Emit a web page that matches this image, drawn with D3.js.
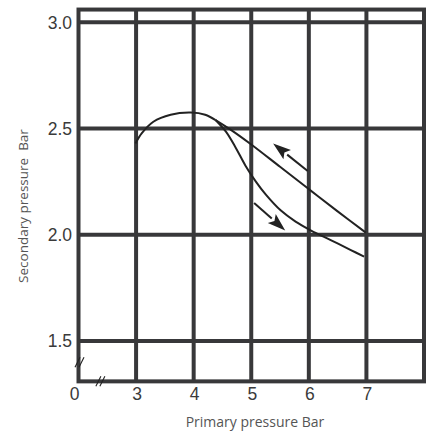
<!DOCTYPE html>
<html>
<head>
<meta charset="utf-8">
<script src="https://cdn.jsdelivr.net/npm/d3@7"></script>
<style>
  body { margin: 0; background: #fff; }
  svg { display: block; }
</style>
</head>
<body>
<div id="chart"></div>
<script>
// grid values
var xTicks = [2, 3, 4, 5, 6, 7];
var xTickLabels = ["0", "3", "4", "5", "6", "7"];
var xGrid = [3, 4, 5, 6, 7];
var yTicks = [1.5, 2.0, 2.5, 3.0];
var yTickLabels = ["1.5", "2.0", "2.5", "3.0"];

// rising part of the loop (shared)
var risingX = [2.99, 3.1, 3.3, 3.6, 3.95, 4.2, 4.38];
var risingY = [2.43, 2.478, 2.532, 2.565, 2.575, 2.565, 2.54];
// upper branch (return)
var upperX = [4.38, 4.64, 5.0, 5.5, 6.0, 6.5, 6.99];
var upperY = [2.54, 2.495, 2.425, 2.32, 2.215, 2.11, 2.01];
// lower branch (falling)
var lowerX = [4.38, 4.56, 4.73, 4.90, 5.08, 5.25, 5.51, 5.77, 6.04, 6.38, 6.73, 6.96];
var lowerY = [2.54, 2.485, 2.41, 2.325, 2.25, 2.19, 2.115, 2.062, 2.02, 1.975, 1.928, 1.897];

// arrows: [fromX, fromY, toX, toY]
var arrowUp = [5.98, 2.30, 5.38, 2.43];
var arrowDown = [5.05, 2.15, 5.59, 2.02];

var width = 435, height = 440;
var ink = "#38383a";

var svg = d3.select("#chart").append("svg")
    .attr("width", width)
    .attr("height", height);

var x = d3.scaleLinear().domain([2, 8]).range([78.5, 424]);
var y = d3.scaleLinear().domain([1.5, 3.0]).range([341, 22.3]);
var yTop = 3.06, yBottom = 1.31;

// grid lines
svg.selectAll(".vgrid")
    .data(xGrid)
    .enter().append("line")
    .attr("x1", function(d) { return x(d); })
    .attr("x2", function(d) { return x(d); })
    .attr("y1", y(yTop))
    .attr("y2", y(yBottom))
    .attr("stroke", ink)
    .attr("stroke-width", 4);

svg.selectAll(".hgrid")
    .data(yTicks)
    .enter().append("line")
    .attr("x1", x(2))
    .attr("x2", x(8))
    .attr("y1", function(d) { return y(d); })
    .attr("y2", function(d) { return y(d); })
    .attr("stroke", ink)
    .attr("stroke-width", 4);

// frame
svg.append("rect")
    .attr("x", x(2))
    .attr("y", y(yTop))
    .attr("width", x(8) - x(2))
    .attr("height", y(yBottom) - y(yTop))
    .attr("fill", "none")
    .attr("stroke", ink)
    .attr("stroke-width", 4);

// tick labels
svg.selectAll(".ylab")
    .data(yTicks)
    .enter().append("text")
    .attr("x", 72)
    .attr("y", function(d) { return y(d); })
    .attr("dy", "0.36em")
    .attr("text-anchor", "end")
    .attr("font-family", "Liberation Sans, Arial, sans-serif")
    .attr("font-size", 17.5)
    .attr("fill", "#3a3a3a")
    .text(function(d, i) { return yTickLabels[i]; });

svg.selectAll(".xlab")
    .data(xTicks)
    .enter().append("text")
    .attr("x", function(d, i) { return x(d) + (i === 0 ? -4 : 1); })
    .attr("y", 400)
    .attr("text-anchor", "middle")
    .attr("font-family", "Liberation Sans, Arial, sans-serif")
    .attr("font-size", 17.5)
    .attr("fill", "#3a3a3a")
    .text(function(d, i) { return xTickLabels[i]; });

// axis titles
svg.append("text")
    .attr("x", 255)
    .attr("y", 427)
    .attr("text-anchor", "middle")
    .attr("font-family", "Open Sans, sans-serif")
    .attr("font-size", 14)
    .attr("fill", "#555")
    .text("Primary pressure Bar");

svg.append("text")
    .attr("transform", "translate(28,206) rotate(-90)")
    .attr("text-anchor", "middle")
    .attr("font-family", "Open Sans, sans-serif")
    .attr("font-size", 13.5)
    .attr("fill", "#555")
    .style("white-space", "pre")
    .text("Secondary pressure  Bar");

// break marks
function breakMark(cx, cy) {
    [-2, 2].forEach(function(o) {
        svg.append("line")
            .attr("x1", cx + o - 2.5).attr("y1", cy + 5)
            .attr("x2", cx + o + 2.5).attr("y2", cy - 5)
            .attr("stroke", "#222")
            .attr("stroke-width", 1.1);
    });
}
breakMark(x(2.38), y(yBottom));
breakMark(x(2) + 1, y(1.4));

// loop curves
var line = d3.line()
    .x(function(d) { return x(d[0]); })
    .y(function(d) { return y(d[1]); })
    .curve(d3.curveCatmullRom);

function zip(a, b) { return a.map(function(v, i) { return [v, b[i]]; }); }

[zip(risingX, risingY), zip(upperX, upperY), zip(lowerX, lowerY)].forEach(function(pts) {
    svg.append("path")
        .attr("d", line(pts))
        .attr("fill", "none")
        .attr("stroke", "#222")
        .attr("stroke-width", 2);
});

// arrows
function arrow(a) {
    var x1 = x(a[0]), y1 = y(a[1]), x2 = x(a[2]), y2 = y(a[3]);
    var dx = x2 - x1, dy = y2 - y1, len = Math.sqrt(dx * dx + dy * dy);
    var ux = dx / len, uy = dy / len;
    var hl = 18, hw = 6;
    var bx = x2 - ux * hl, by = y2 - uy * hl;
    svg.append("line")
        .attr("x1", x1).attr("y1", y1)
        .attr("x2", bx).attr("y2", by)
        .attr("stroke", "#222")
        .attr("stroke-width", 2);
    svg.append("path")
        .attr("d", "M" + x2 + "," + y2 +
            "L" + (bx - uy * hw) + "," + (by + ux * hw) +
            "L" + (x2 - ux * hl * 0.8) + "," + (y2 - uy * hl * 0.8) +
            "L" + (bx + uy * hw) + "," + (by - ux * hw) + "Z")
        .attr("fill", "#222");
}
arrow(arrowUp);
arrow(arrowDown);
</script>
</body>
</html>
